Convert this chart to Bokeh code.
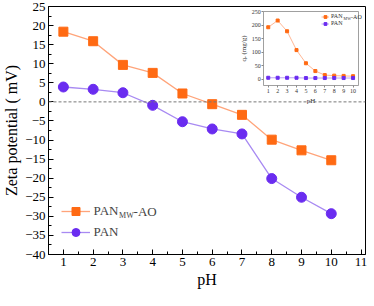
from bokeh.plotting import figure
from bokeh.models import (Range1d, LinearAxis, FixedTicker, Legend, LegendItem, Label, Span)
from bokeh.embed import file_html
from bokeh.resources import INLINE

# ---- data ----
ph = [1, 2, 3, 4, 5, 6, 7, 8, 9, 10]
zeta_pan_ao = [18.4, 15.9, 9.7, 7.6, 2.2, -0.6, -3.4, -9.9, -12.7, -15.3]
zeta_pan = [3.9, 3.3, 2.4, -0.9, -5.2, -7.1, -8.4, -20.1, -25.0, -29.3]
qe_pan_ao = [193, 218, 178, 108, 59, 30, 15, 13, 12, 11]
qe_pan = [5, 5, 5, 5, 4, 4, 4, 4, 4, 4]
x_ticks = [1, 2, 3, 4, 5, 6, 7, 8, 9, 10, 11]
y_ticks = [-40, -35, -30, -25, -20, -15, -10, -5, 0, 5, 10, 15, 20, 25]
inset_x_ticks = [1, 2, 3, 4, 5, 6, 7, 8, 9, 10]
inset_y_ticks = [0, 50, 100, 150, 200, 250]

FONT = "Liberation Serif"
C_SQ = "#ff6a13"
C_SQ_LINE = "#ffa47a"
C_CI = "#6a2cf0"
C_CI_LINE = "#a88af2"

FW, FH = 317, 248
XR = (0.5, 11.15)
YR = (-40, 25)

p = figure(frame_width=FW, frame_height=FH, x_range=Range1d(*XR), y_range=Range1d(*YR),
           output_backend="svg", toolbar_location=None,
           min_border_top=6, min_border_right=2, min_border_left=0, min_border_bottom=0)
p.xgrid.visible = False
p.ygrid.visible = False
p.outline_line_color = "black"
p.outline_line_width = 1
p.background_fill_color = "white"

for ax in (p.xaxis[0], p.yaxis[0]):
    ax.major_tick_in = 5
    ax.major_tick_out = 0
    ax.minor_tick_in = 3
    ax.minor_tick_out = 0
    ax.axis_line_color = "black"
    ax.major_tick_line_color = "black"
    ax.minor_tick_line_color = "black"
    ax.major_label_text_font = FONT
    ax.major_label_text_font_size = "13px"
    ax.major_label_text_color = "black"
    ax.axis_label_text_font = FONT
    ax.axis_label_text_font_size = "16px"
    ax.axis_label_text_font_style = "normal"
    ax.axis_label_text_color = "black"
    ax.major_label_standoff = 3
    ax.axis_label_standoff = 2

p.xaxis[0].ticker = FixedTicker(ticks=x_ticks, minor_ticks=[t + 0.5 for t in x_ticks[:-1]] + [0.5])
p.yaxis[0].ticker = FixedTicker(ticks=y_ticks, minor_ticks=[t + 2.5 for t in y_ticks[:-1]])
p.xaxis[0].axis_label = "pH"
p.yaxis[0].axis_label = "Zeta potential ( mV)"

p.add_layout(Span(location=0, dimension="width", line_color="#777777", line_dash="3 2", line_width=1))

l1 = p.line(ph, zeta_pan_ao, line_color=C_SQ_LINE, line_width=1.3)
s1 = p.scatter(ph, zeta_pan_ao, marker="square", size=9, fill_color=C_SQ, line_color=C_SQ)
l2 = p.line(ph, zeta_pan, line_color=C_CI_LINE, line_width=1.3)
s2 = p.scatter(ph, zeta_pan, marker="circle", size=10, fill_color=C_CI, line_color=C_CI)

kx = FW / 327.0
ky = FH / 261.0

leg = Legend(items=[LegendItem(label="PAN", renderers=[l1, s1]),
                    LegendItem(label="PAN", renderers=[l2, s2])],
             location=(13 * kx, 23 * ky - 10), glyph_width=int(30 * kx), glyph_height=20,
             label_height=20, spacing=1, padding=0, margin=0, label_standoff=4,
             border_line_color=None, background_fill_alpha=0,
             label_text_font=FONT, label_text_font_size="13px")
p.add_layout(leg)

row1 = 23 * ky + 21
tx = 13 * kx + int(30 * kx) + 4 + 25
p.add_layout(Label(x=XR[0], y=YR[0], x_offset=tx, y_offset=row1 - 4, text="MW",
                   text_font=FONT, text_font_size="8px", text_baseline="middle"))
p.add_layout(Label(x=XR[0], y=YR[0], x_offset=tx + 14.5, y_offset=row1, text="-AO",
                   text_font=FONT, text_font_size="13px", text_baseline="middle"))

# ---- inset via extra ranges ----
IX = (0.52, 10.6)
IY = (-25, 250)
fl, fr = (267 - 45) / 327.0, (365 - 45) / 327.0
fb, ft = 1 - (89.5 - 6) / 261.0, 1 - (11.7 - 6) / 261.0
sx = (IX[1] - IX[0]) / (fr - fl)
sy = (IY[1] - IY[0]) / (ft - fb)
p.extra_x_ranges = {"ix": Range1d(IX[0] - fl * sx, IX[0] - fl * sx + sx)}
p.extra_y_ranges = {"iy": Range1d(IY[0] - fb * sy, IY[0] - fb * sy + sy)}

GR = "#888888"

def inset_axis(side, fixed, bounds, ticks=None, label=None):
    ax = LinearAxis(x_range_name="ix", y_range_name="iy", fixed_location=fixed, bounds=bounds)
    ax.axis_line_color = GR
    ax.axis_line_width = 0.8
    if ticks is None:
        ax.ticker = FixedTicker(ticks=[])
        ax.major_label_text_font_size = "0px"
        ax.major_tick_line_color = None
        ax.minor_tick_line_color = None
    else:
        ax.ticker = FixedTicker(ticks=ticks)
        ax.major_tick_in = 0
        ax.major_tick_out = 2
        ax.minor_tick_line_color = None
        ax.major_tick_line_color = GR
        ax.major_label_text_font = FONT
        ax.major_label_text_font_size = "6px"
        ax.major_label_text_color = "#333333"
        ax.major_label_standoff = 1
    if label:
        ax.axis_label = label
        ax.axis_label_text_font = FONT
        ax.axis_label_text_font_size = "7px"
        ax.axis_label_text_font_style = "normal"
        ax.axis_label_text_color = "#333333"
        ax.axis_label_standoff = 1
    p.add_layout(ax, side)

inset_axis("below", IY[0], IX, inset_x_ticks, "pH")
inset_axis("left", IX[0], IY, inset_y_ticks, "qₑ (mg/g)")
inset_axis("above", IY[1], IX)
inset_axis("right", IX[1], IY)

il1 = p.line(ph, qe_pan_ao, line_color=C_SQ_LINE, line_width=0.8, x_range_name="ix", y_range_name="iy")
is1 = p.scatter(ph, qe_pan_ao, marker="square", size=3, fill_color=C_SQ, line_color=C_SQ,
                x_range_name="ix", y_range_name="iy")
il2 = p.line(ph, qe_pan, line_color=C_CI_LINE, line_width=0.8, x_range_name="ix", y_range_name="iy")
is2 = p.scatter(ph, qe_pan, marker="square", size=3, fill_color=C_CI, line_color=C_CI,
                x_range_name="ix", y_range_name="iy")

ileg_x = (326.7 - 45) * kx
ileg_y2 = (267 - 24) * ky
ileg = Legend(items=[LegendItem(label="PAN", renderers=[il1, is1]),
                     LegendItem(label="PAN", renderers=[il2, is2])],
              location=(ileg_x, ileg_y2 - 3.5), glyph_width=8, glyph_height=7,
              label_height=7, spacing=0, padding=0, margin=0, label_standoff=2,
              border_line_color=None, background_fill_alpha=0,
              label_text_font=FONT, label_text_font_size="6px", label_text_color="#333333")
p.add_layout(ileg)
irow1 = ileg_y2 + 7
itx = ileg_x + 8 + 2 + 12
p.add_layout(Label(x=XR[0], y=YR[0], x_offset=itx, y_offset=irow1 - 2, text="MW",
                   text_font=FONT, text_font_size="4px", text_baseline="middle", text_color="#333333"))
p.add_layout(Label(x=XR[0], y=YR[0], x_offset=itx + 7.5, y_offset=irow1, text="-AO",
                   text_font=FONT, text_font_size="6px", text_baseline="middle", text_color="#333333"))

open("out.html", "w").write(file_html(p, INLINE))
